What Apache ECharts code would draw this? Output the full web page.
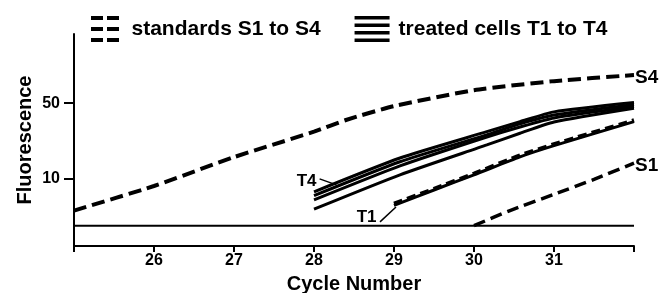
<!DOCTYPE html>
<html>
<head>
<meta charset="utf-8">
<script src="https://cdn.jsdelivr.net/npm/echarts@6/dist/echarts.min.js"></script>
<style>
  html, body { margin: 0; padding: 0; background: #fff; }
  #chart { width: 672px; height: 293px; }
</style>
</head>
<body>
<div id="chart"></div>
<script>
// values (fluorescence, log scale)
const xLabels = [26, 27, 28, 29, 30, 31]
const yLabels = [10, 50]

const baseCycles = [25, 32]
const baseline = [3.7, 3.7]

const s4Cycles = [25, 26, 27, 28, 28.4, 29, 30, 31, 32]
const s4 = [5.1, 8.6, 15.9, 27.3, 35, 47, 66, 80, 91]

const s1Cycles = [30, 30.45, 31, 31.5, 32]
const s1 = [3.7, 5.1, 7.2, 9.9, 14.0]

const tCycles = [28, 29.075, 30.16, 30.575, 31, 32]
const t4 = [7.6, 15.6, 27.3, 33.8, 41.6, 50.7]
const t3 = [7.0, 14.4, 25.5, 32.2, 38.9, 48.7]
const t2 = [6.4, 13.2, 24.4, 30.2, 36.6, 46.6]
const s3 = [5.25, 10.9, 20.6, 26.4, 33.6, 45] // bottom line of the bundle, prints solid

const t1Cycles = [29, 29.5, 30, 30.575, 31, 32]
const t1 = [5.7, 7.9, 10.9, 16.0, 20.3, 33.8]
const s2 = [5.9, 8.1, 11.2, 16.5, 20.9, 34.8]

const STD = 'standards S1 to S4'
const TRT = 'treated cells T1 to T4'
const FONT = 'Liberation Sans'

const zip = (xs, ys) => xs.map((x, i) => [x, ys[i]])

const dashed = (id, xs, ys, dash, width) => ({
  id, name: STD, type: 'line', data: zip(xs, ys),
  smooth: 0.2, symbol: 'none', z: 4,
  lineStyle: { color: '#000', width, type: dash, cap: 'butt' }
})
const solid = (id, xs, ys) => ({
  id, name: TRT, type: 'line', data: zip(xs, ys),
  smooth: 0.2, symbol: 'none', z: 3,
  lineStyle: { color: '#000', width: 3 }
})
const endLabel = (text) => ({
  show: true, formatter: text, distance: 1, offset: [0, 3],
  color: '#000', fontFamily: FONT, fontWeight: 'bold', fontSize: 19
})
const tag = (text, at, leader) => ({
  markPoint: {
    symbol: 'circle', symbolSize: 1, silent: true,
    itemStyle: { color: 'transparent' },
    label: {
      show: true, position: 'left', distance: 1, formatter: text,
      color: '#000', fontFamily: FONT, fontWeight: 'bold', fontSize: 17
    },
    data: [{ coord: at }]
  },
  markLine: {
    symbol: ['none', 'none'], silent: true, animation: false,
    label: { show: false },
    lineStyle: { color: '#000', width: 1.5, type: 'solid' },
    data: [[{ coord: leader[0] }, { coord: leader[1] }]]
  }
})

const chart = echarts.init(document.getElementById('chart'))

const s4Series = dashed('S4', s4Cycles, s4, [13, 6], 4)
s4Series.endLabel = endLabel('S4')
const s1Series = dashed('S1', s1Cycles, s1, [12, 6], 3.5)
s1Series.endLabel = endLabel('S1')
const s2Series = dashed('S2', t1Cycles, s2, [9, 5], 4)
s2Series.z = 5

const t4Series = Object.assign(solid('T4', tCycles, t4), tag('T4', [28.05, 9.6], [[28.07, 10.0], [28.28, 8.8]]))
const t1Series = Object.assign(solid('T1', t1Cycles, t1), tag('T1', [28.8, 4.41], [[28.825, 4.01], [29.025, 5.5]]))

chart.setOption({
  animation: false,
  backgroundColor: '#fff',
  textStyle: { fontFamily: FONT },
  legend: {
    left: 86, top: 11,
    itemWidth: 35, itemHeight: 26, itemGap: 34,
    selectedMode: false,
    textStyle: { color: '#000', fontSize: 21, fontWeight: 'bold', fontFamily: FONT, padding: [0, 0, 0, 4] },
    itemStyle: { color: '#000', borderWidth: 0 },
    lineStyle: { width: 0 },
    data: [
      { name: STD, icon: 'path://M0 0H12V4H0Z M16 0H28V4H16Z M0 11H12V15H0Z M16 11H28V15H16Z M0 22H12V26H0Z M16 22H28V26H16Z' },
      { name: TRT, icon: 'path://M0 0H35V3.5H0Z M0 7.5H35V11H0Z M0 15H35V18.5H0Z M0 22.5H35V26H0Z' }
    ]
  },
  grid: { left: 74, right: 38, top: 34, bottom: 47, containLabel: false, outerBoundsMode: 'none' },
  xAxis: {
    type: 'value', min: 25, max: 32, interval: 1,
    name: 'Cycle Number', nameLocation: 'middle', nameGap: 28, nameMoveOverlap: false,
    nameTextStyle: { color: '#000', fontSize: 20, fontWeight: 'bold', fontFamily: FONT },
    axisLine: { lineStyle: { color: '#000', width: 2 } },
    axisTick: { show: true, length: 6, lineStyle: { color: '#000', width: 2 } },
    axisLabel: {
      color: '#000', fontSize: 16, fontWeight: 'bold', margin: 7,
      formatter: v => (xLabels.includes(v) ? String(v) : '')
    },
    splitLine: { show: false }
  },
  yAxis: {
    type: 'log', logBase: 10, min: 2.4, max: 218,
    name: 'Fluorescence', nameLocation: 'middle', nameGap: 39, nameMoveOverlap: false,
    nameTextStyle: { color: '#000', fontSize: 20, fontWeight: 'bold', fontFamily: FONT },
    axisLine: { show: true, lineStyle: { color: '#000', width: 2 } },
    axisTick: { show: true, length: 10, customValues: yLabels, lineStyle: { color: '#000', width: 2 } },
    axisLabel: {
      color: '#000', fontSize: 16, fontWeight: 'bold', margin: 14,
      customValues: yLabels
    },
    splitLine: { show: false },
    minorTick: { show: false }
  },
  series: [
    {
      id: 'base', name: 'baseline', type: 'line', data: zip(baseCycles, baseline),
      symbol: 'none', z: 2, lineStyle: { color: '#000', width: 2 }
    },
    s4Series,
    s1Series,
    t4Series,
    solid('T3', tCycles, t3),
    solid('T2', tCycles, t2),
    Object.assign(solid('S3', tCycles, s3), { name: STD }),
    t1Series,
    s2Series
  ]
})
</script>
</body>
</html>
